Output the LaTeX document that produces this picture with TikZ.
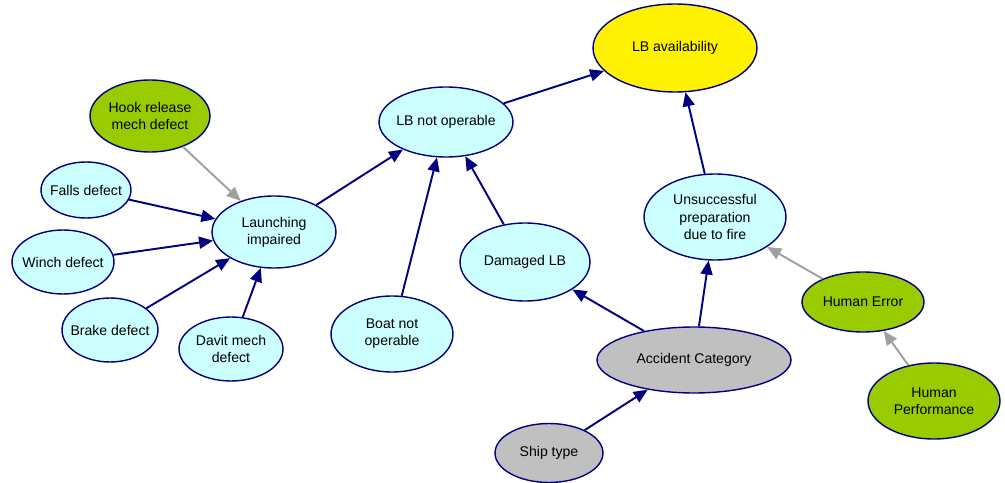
\documentclass[tikz,border=0pt]{standalone}
\usepackage{fontspec}
\setmainfont{Liberation Sans}
\usetikzlibrary{shapes.geometric,arrows.meta}

\definecolor{navyline}{RGB}{0,0,128}
\definecolor{lightcyan}{RGB}{204,255,255}
\definecolor{olivegreen}{RGB}{153,204,0}
\definecolor{greynode}{RGB}{192,192,192}
\definecolor{greyline}{RGB}{160,160,160}

\begin{document}
\begin{tikzpicture}[x=0.02cm, y=-0.02cm,
    font=\fontsize{8}{9.7}\selectfont,
    bnode/.style={ellipse, draw=navyline, line width=0.8pt, inner xsep=-4pt, inner ysep=0pt, align=center},
    cyannode/.style={bnode, fill=lightcyan},
    greennode/.style={bnode, fill=olivegreen},
    greynd/.style={bnode, fill=greynode},
    link/.style={draw=navyline, line width=1.1pt, -{Triangle[length=0.28cm, width=0.24cm]}},
    softlink/.style={draw=greyline, line width=1.1pt, -{Triangle[length=0.28cm, width=0.24cm]}}]

    \useasboundingbox (0,0) rectangle (1005,483);

    \node(avail)[bnode, fill=yellow, minimum width=3.28cm, minimum height=1.76cm] at (675,48) {LB availability};
    \node(notop)[cyannode, minimum width=2.68cm, minimum height=1.40cm] at (446,122) {LB not operable};
    \node(hook)[greennode, minimum width=2.40cm, minimum height=1.44cm] at (150,116) {Hook release\\mech defect};
    \node(falls)[cyannode, minimum width=1.80cm, minimum height=1.12cm] at (86,190) {Falls defect};
    \node(launch)[cyannode, minimum width=2.48cm, minimum height=1.44cm] at (274,232) {Launching\\impaired};
    \node(winch)[cyannode, minimum width=2.04cm, minimum height=1.28cm] at (63,262) {Winch defect};
    \node(brake)[cyannode, minimum width=1.92cm, minimum height=1.28cm] at (110,330) {Brake defect};
    \node(davit)[cyannode, minimum width=2.08cm, minimum height=1.28cm] at (231,349) {Davit mech\\defect};
    \node(boat)[cyannode, minimum width=2.44cm, minimum height=1.52cm] at (392,334) {Boat not\\operable};
    \node(damaged)[cyannode, minimum width=2.60cm, minimum height=1.56cm] at (525,262) {Damaged LB};
    \node(prep)[cyannode, minimum width=2.84cm, minimum height=1.72cm] at (715,217) {Unsuccessful\\preparation\\due to fire};
    \node(humerr)[greennode, minimum width=2.44cm, minimum height=1.20cm] at (863,302) {Human Error};
    \node(humperf)[greennode, minimum width=2.64cm, minimum height=1.52cm] at (934,401) {Human\\Performance};
    \node(acccat)[greynd, minimum width=3.88cm, minimum height=1.32cm] at (694,360) {Accident Category};
    \node(ship)[greynd, minimum width=2.16cm, minimum height=1.18cm] at (549,453) {Ship type};

    \draw[link] (notop) -- (avail);
    \draw[link] (prep) -- (avail);
    \draw[softlink] (hook) -- (launch);
    \draw[link] (falls) -- (launch);
    \draw[link] (winch) -- (launch);
    \draw[link] (brake) -- (launch);
    \draw[link] (davit) -- (launch);
    \draw[link] (launch) -- (notop);
    \draw[link] (boat) -- (notop);
    \draw[link] (damaged) -- (notop);
    \draw[link] (acccat) -- (damaged);
    \draw[link] (acccat) -- (prep);
    \draw[softlink] (humerr) -- (prep);
    \draw[softlink] (humperf) -- (humerr);
    \draw[link] (ship) -- (acccat);

\end{tikzpicture}
\end{document}
